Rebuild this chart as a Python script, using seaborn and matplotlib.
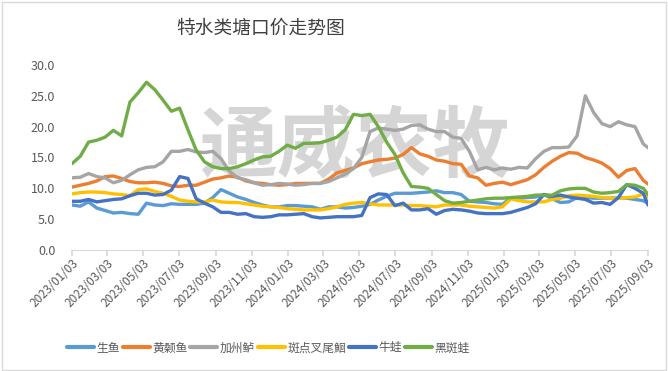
import numpy as np
import pandas as pd
import matplotlib
matplotlib.use("Agg")
import matplotlib.pyplot as plt
import matplotlib.dates as mdates
import seaborn as sns

# ---- data (biweekly samples) ----
dates = list(pd.date_range("2023-01-03", periods=70, freq="14D")) + [pd.Timestamp("2025-09-03")]

shengyu = [7.3, 7.1, 7.8, 6.8, 6.4, 6.0, 6.1, 5.9, 5.8, 7.6,
           7.3, 7.2, 7.5, 7.4, 7.4, 7.4, 7.6, 8.5, 9.8, 9.2,
           8.6, 8.2, 7.7, 7.3, 7.0, 7.0, 7.2, 7.2, 7.1, 7.0,
           6.6, 7.0, 7.0, 6.8, 6.9, 7.1, 7.4, 8.1, 8.7, 9.2,
           9.2, 9.2, 9.3, 9.4, 9.6, 9.3, 9.3, 9.0, 7.9, 7.8,
           7.7, 7.5, 7.4, 8.5, 8.4, 8.5, 8.6, 9.0, 8.3, 7.7,
           7.8, 8.5, 8.5, 8.4, 8.4, 8.4, 8.5, 8.4, 8.2, 8.0, 7.6]
huangsang = [10.2, 10.5, 10.8, 11.2, 11.9, 12.0, 11.6, 11.1, 10.9, 10.9,
             11.0, 10.8, 10.4, 10.3, 10.5, 10.5, 11.0, 11.5, 11.7, 12.0,
             11.8, 11.2, 10.9, 10.8, 10.6, 10.5, 10.6, 10.8, 10.8, 10.8,
             10.8, 11.5, 12.5, 12.9, 13.3, 14.0, 14.3, 14.6, 14.7, 14.9,
             15.5, 16.6, 15.6, 15.2, 14.6, 14.4, 14.0, 13.9, 12.0, 11.7,
             10.5, 10.8, 11.0, 10.6, 11.0, 11.4, 12.2, 13.4, 14.4, 15.2,
             15.8, 15.7, 15.0, 14.6, 14.1, 13.2, 11.8, 12.9, 13.2, 11.3, 10.7]
jiazhoulu = [11.7, 11.8, 12.4, 11.9, 11.7, 10.9, 11.3, 12.2, 13.0, 13.4,
             13.5, 14.3, 16.0, 16.0, 16.3, 15.9, 15.8, 16.0, 14.8, 12.8,
             11.7, 11.4, 10.9, 10.5, 10.6, 10.8, 10.7, 10.5, 10.6, 10.8,
             10.8, 11.1, 11.7, 12.3, 13.2, 15.0, 19.2, 19.8, 19.6, 19.4,
             19.6, 20.2, 20.3, 19.6, 19.2, 19.2, 18.3, 18.1, 16.0, 13.0,
             13.4, 13.0, 13.3, 13.1, 13.4, 13.3, 14.8, 16.0, 16.6, 16.6,
             16.7, 18.5, 25.0, 22.3, 20.5, 20.0, 20.8, 20.3, 20.0, 17.2, 16.6]
bandian = [9.1, 9.3, 9.4, 9.4, 9.3, 9.1, 9.0, 8.8, 9.8, 9.9,
           9.5, 9.2, 8.7, 8.1, 7.9, 7.8, 7.8, 8.1, 7.8, 7.7,
           7.7, 7.5, 7.3, 7.1, 7.0, 6.9, 6.7, 6.6, 6.5, 6.5,
           6.5, 6.7, 7.0, 7.4, 7.6, 7.7, 7.5, 7.3, 7.3, 7.3,
           7.3, 7.2, 7.2, 7.1, 7.0, 7.3, 7.3, 7.3, 7.1, 7.0,
           6.9, 6.8, 7.0, 8.3, 8.0, 7.8, 7.8, 7.8, 8.2, 8.4,
           8.8, 8.9, 8.8, 8.7, 8.5, 8.4, 8.4, 8.5, 8.6, 9.1, 8.6]
niuwa = [7.9, 7.9, 8.2, 7.8, 8.0, 8.2, 8.3, 8.8, 9.2, 9.2,
         8.9, 9.0, 9.7, 11.9, 11.6, 8.3, 7.6, 7.0, 6.1, 6.1,
         5.8, 5.9, 5.4, 5.3, 5.4, 5.7, 5.7, 5.8, 5.9, 5.4,
         5.2, 5.3, 5.4, 5.4, 5.4, 5.6, 8.5, 9.1, 9.0, 7.2,
         7.6, 6.5, 6.5, 6.7, 5.8, 6.4, 6.6, 6.5, 6.3, 6.0,
         5.9, 5.9, 5.9, 6.1, 6.5, 6.9, 7.5, 9.0, 8.7, 8.9,
         8.6, 8.4, 8.2, 7.6, 7.7, 7.4, 8.5, 10.6, 10.0, 9.2, 7.3]
heibanwa = [14.0, 15.2, 17.5, 17.8, 18.3, 19.4, 18.5, 24.0, 25.5, 27.2,
            26.0, 24.3, 22.5, 23.0, 19.5, 16.2, 14.3, 13.5, 13.2, 13.2,
            13.5, 14.0, 14.6, 15.1, 15.2, 16.0, 17.0, 16.5, 17.3, 17.3,
            17.4, 17.8, 18.3, 19.5, 22.0, 21.8, 22.0, 20.0, 17.5, 15.5,
            12.5, 10.3, 10.2, 10.0, 9.0, 8.0, 7.6, 7.7, 7.9, 8.1,
            8.3, 8.4, 8.4, 8.5, 8.6, 8.7, 8.9, 8.9, 8.9, 9.6,
            9.9, 10.0, 10.0, 9.4, 9.2, 9.3, 9.5, 10.6, 10.5, 10.0, 9.0]

series_names = ["生鱼", "黄颡鱼", "加州鲈", "斑点叉尾鮰", "牛蛙", "黑斑蛙"]
series_values = [shengyu, huangsang, jiazhoulu, bandian, niuwa, heibanwa]
colors = ["#5B9BD5", "#ED7D31", "#A5A5A5", "#FFC000", "#4472C4", "#70AD47"]

title = "特水类塘口价走势图"
tick_dates = pd.date_range("2023-01-01", "2025-09-01", freq="2MS") + pd.Timedelta(days=2)

df = pd.concat([pd.DataFrame({"date": dates, "price": v, "kind": n})
                for n, v in zip(series_names, series_values)], ignore_index=True)

# ---- style ----
sns.set_theme(style="white")
plt.rcParams["font.family"] = ["Noto Sans CJK SC", "DejaVu Sans"]

fig = plt.figure(figsize=(6.68, 3.71), dpi=100)
ax = fig.add_axes([72 / 668, 1 - 250 / 371, 576 / 668, 185 / 371])

# watermark
ax.text(0.49, 0.55, "通威农牧", transform=ax.transAxes, fontsize=56, fontweight="bold",
        color="#c8c8c8", alpha=0.75, ha="center", va="center", fontstyle="italic", zorder=0.5)

sns.lineplot(data=df, x="date", y="price", hue="kind", hue_order=series_names,
             palette=colors, linewidth=2.4, ax=ax, legend=True, zorder=2)

ax.set_xlim(pd.Timestamp("2023-01-03"), pd.Timestamp("2025-09-03"))
ax.set_ylim(0, 30)
ax.set_yticks(np.arange(0, 31, 5))
ax.yaxis.set_major_formatter(matplotlib.ticker.FormatStrFormatter("%.1f"))
ax.set_xticks(tick_dates)
ax.xaxis.set_major_formatter(mdates.DateFormatter("%Y/%m/%d"))
ax.set_xlabel("")
ax.set_ylabel("")

for s in ["top", "right", "left"]:
    ax.spines[s].set_visible(False)
ax.spines["bottom"].set_color("#d9d9d9")
ax.spines["bottom"].set_linewidth(0.8)
ax.tick_params(axis="y", length=0, labelsize=9, labelcolor="#595959", pad=12)
ax.tick_params(axis="x", length=4, color="#d9d9d9", labelsize=8.5, labelcolor="#595959",
               rotation=45, pad=1, bottom=True)
for lab in ax.get_xticklabels():
    lab.set_ha("right")
    lab.set_rotation_mode("anchor")

fig.text(261 / 668, 1 - 28 / 371, title, ha="center", va="center", fontsize=13.5,
         color="#404040", fontweight="medium")

handles, labels = ax.get_legend_handles_labels()
ax.legend_.remove()
for h in handles:
    h.set_linewidth(3)
fig.legend(handles, labels, loc="center left", bbox_to_anchor=(56 / 668, 1 - 348 / 371),
           ncol=6, frameon=False, fontsize=8.5, handlelength=2.3, handletextpad=0.2,
           columnspacing=0.25, labelcolor="#595959")

# chart border
fig.patches.append(matplotlib.patches.Rectangle((0.003, 0.004), 0.994, 0.99, transform=fig.transFigure,
                                                fill=False, edgecolor="#d9d9d9", linewidth=1))

fig.savefig("out.png", dpi=100)
